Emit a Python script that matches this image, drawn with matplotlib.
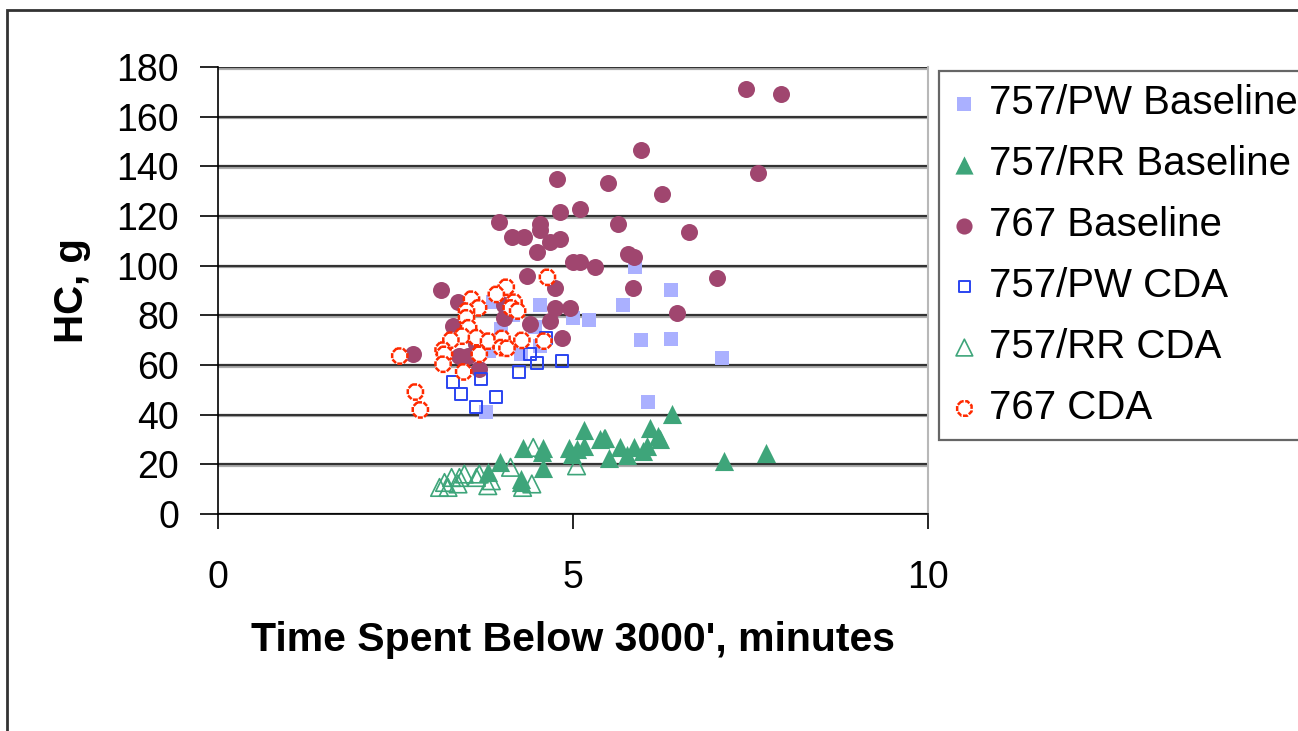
import matplotlib
matplotlib.use("Agg")
import matplotlib.pyplot as plt
import matplotlib.patheffects as pe
from matplotlib.patches import Rectangle

plt.rcParams['font.family'] = ['Liberation Sans', 'DejaVu Sans']

# --- data (time below 3000 ft [min], HC [g]) ---
pw_base_x = [3.88, 4.53, 5.00, 5.22, 4.16, 3.99, 4.47, 3.82, 4.27, 4.53, 3.78,
             5.88, 6.38, 5.71, 5.96, 6.38, 7.10, 6.06]
pw_base_y = [85.3, 84.2, 78.9, 78.3, 80.0, 74.3, 75.4, 65.6, 64.6, 67.6, 41.1,
             99.4, 90.4, 84.2, 69.9, 70.6, 62.7, 45.3]

rr_base_x = [5.15, 5.38, 5.45, 4.30, 4.58, 4.94, 5.06, 5.15, 4.99, 4.56, 5.51,
             3.97, 4.58, 3.80, 4.27, 4.27, 6.40, 6.08, 6.20, 5.44, 6.22, 6.04,
             5.66, 5.86, 5.99, 5.76, 7.72, 7.12]
rr_base_y = [33.9, 30.4, 30.8, 26.4, 26.4, 26.4, 26.1, 27.4, 24.1, 24.8, 22.4,
             20.8, 18.5, 16.8, 14.1, 12.8, 40.2, 34.8, 31.5, 30.8, 30.1, 27.4,
             26.8, 26.8, 25.4, 23.7, 24.5, 21.4]

b767_base_x = [2.74, 3.14, 3.31, 3.38, 3.39, 3.52, 3.63, 3.67, 3.96, 4.03, 4.03,
               4.14, 4.31, 4.35, 4.39, 4.49, 4.53, 4.53, 4.67, 4.67, 4.74, 4.74,
               4.78, 4.82, 4.82, 4.85, 4.96, 5.00, 5.10, 5.10, 5.31, 5.49, 5.64,
               5.78, 5.85, 5.86, 5.96, 6.25, 6.46, 6.64, 7.03, 7.43, 7.60, 7.93]
b767_base_y = [64.6, 90.1, 75.9, 85.3, 63.6, 63.6, 68.3, 58.5, 117.7, 84.0, 79.0,
               111.7, 111.7, 95.8, 76.7, 105.5, 116.9, 114.2, 109.6, 77.7, 91.1, 83.0,
               135.1, 121.7, 110.6, 70.7, 83.0, 101.4, 101.4, 122.9, 99.4, 133.1, 116.8,
               104.7, 91.1, 103.4, 146.5, 129.0, 81.0, 113.7, 95.1, 171.1, 137.3, 169.1]

pw_cda_x = [4.62, 4.39, 4.49, 4.85, 4.24, 3.31, 3.71, 3.42, 3.92, 3.64]
pw_cda_y = [70.7, 64.6, 60.7, 61.6, 57.3, 53.3, 54.5, 48.2, 47.3, 43.1]

rr_cda_x = [4.44, 5.05, 4.12, 3.47, 3.29, 3.40, 3.68, 3.64, 3.19, 3.12, 3.38,
            3.80, 4.42, 4.29, 3.24, 3.85]
rr_cda_y = [26.8, 19.4, 18.8, 16.1, 14.7, 14.7, 16.1, 14.7, 12.7, 10.7, 12.1,
            11.4, 12.1, 10.7, 10.7, 13.4]

b767_cda_x = [4.64, 4.06, 3.92, 4.17, 3.57, 3.67, 3.50, 4.13, 4.22, 3.50, 3.53,
              3.44, 3.64, 3.28, 3.81, 4.00, 3.99, 4.07, 4.28, 4.59, 3.17, 3.19,
              3.17, 3.68, 2.56, 3.46, 2.78, 2.85]
b767_cda_y = [95.3, 91.3, 88.4, 85.3, 86.5, 83.0, 81.7, 83.0, 81.7, 79.0, 75.0,
              71.6, 71.0, 70.0, 69.6, 70.7, 67.0, 66.7, 69.9, 69.6, 66.0, 64.3,
              60.3, 64.3, 63.6, 57.2, 49.1, 41.9]

x_ticks = [0, 5, 10]
y_ticks = list(range(0, 181, 20))

fig = plt.figure(figsize=(12.98, 7.31), dpi=100)
ax = fig.add_axes([218 / 1298, 1 - 514 / 731, 710 / 1298, 447 / 731])

ax.scatter(pw_base_x, pw_base_y, marker='s', s=100, color='#aab0ff',
           linewidths=0, label='757/PW Baseline', zorder=3)
ax.scatter(rr_base_x, rr_base_y, marker='^', s=190, color='#3ea57a',
           linewidths=0, label='757/RR Baseline', zorder=3)
ax.scatter(b767_base_x, b767_base_y, marker='o', s=150, color='#a0466f',
           linewidths=0, label='767 Baseline', zorder=3)
ax.scatter(pw_cda_x, pw_cda_y, marker='s', s=75, facecolors='none',
           edgecolors='#2a44f0', linewidths=1.4, label='757/PW CDA', zorder=3)
ax.scatter(rr_cda_x, rr_cda_y, marker='^', s=160, facecolors='none',
           edgecolors='#3ea57a', linewidths=1.2, label='757/RR CDA', zorder=3)
ax.scatter(b767_cda_x, b767_cda_y, marker='8', s=140, facecolors='white',
           edgecolors='#ff2a00', linewidths=1.8, linestyle=(0, (2, 0.6)),
           label='767 CDA', zorder=3)

ax.set_xlim(0, 10)
ax.set_ylim(0, 180)
ax.set_xticks(x_ticks)
ax.set_yticks(y_ticks)
ax.tick_params(axis='x', direction='out', length=11, width=1.2, pad=22,
               labelsize=27)
ax.tick_params(axis='y', direction='out', length=13, width=1.2, pad=15,
               labelsize=27)

ax.yaxis.grid(True, color='#333333', linewidth=1.6)
for gl in ax.get_ygridlines():
    gl.set_path_effects([pe.SimpleLineShadow(offset=(0, -1.2), shadow_color='#999999', alpha=0.8),
                         pe.Normal()])
ax.set_axisbelow(True)

ax.spines['top'].set_visible(False)
ax.spines['right'].set_color('#b8b8b8')
ax.spines['right'].set_linewidth(1.5)
ax.spines['left'].set_linewidth(1.2)
ax.spines['bottom'].set_linewidth(1.2)

ax.set_xlabel("Time Spent Below 3000', minutes", fontsize=29.5,
              fontweight='bold', labelpad=18)
ax.set_ylabel("HC, g", fontsize=29, fontweight='bold', labelpad=18)

leg = fig.legend(loc='upper left', bbox_to_anchor=(939 / 1298, 1 - 71 / 731),
                 fontsize=29, frameon=True, fancybox=False, borderaxespad=0,
                 handletextpad=0.3, handlelength=0.6, labelspacing=0.57,
                 borderpad=0.33, scatterpoints=1, markerscale=0.95)
leg.get_frame().set_edgecolor('#404040')
leg.get_frame().set_linewidth(1.6)

fig.patches.append(Rectangle((7 / 1298, -0.1), 1.2, 1.1 - 10 / 731,
                             transform=fig.transFigure, fill=False,
                             edgecolor='#333333', linewidth=2))

fig.savefig("out.png", dpi=100)
